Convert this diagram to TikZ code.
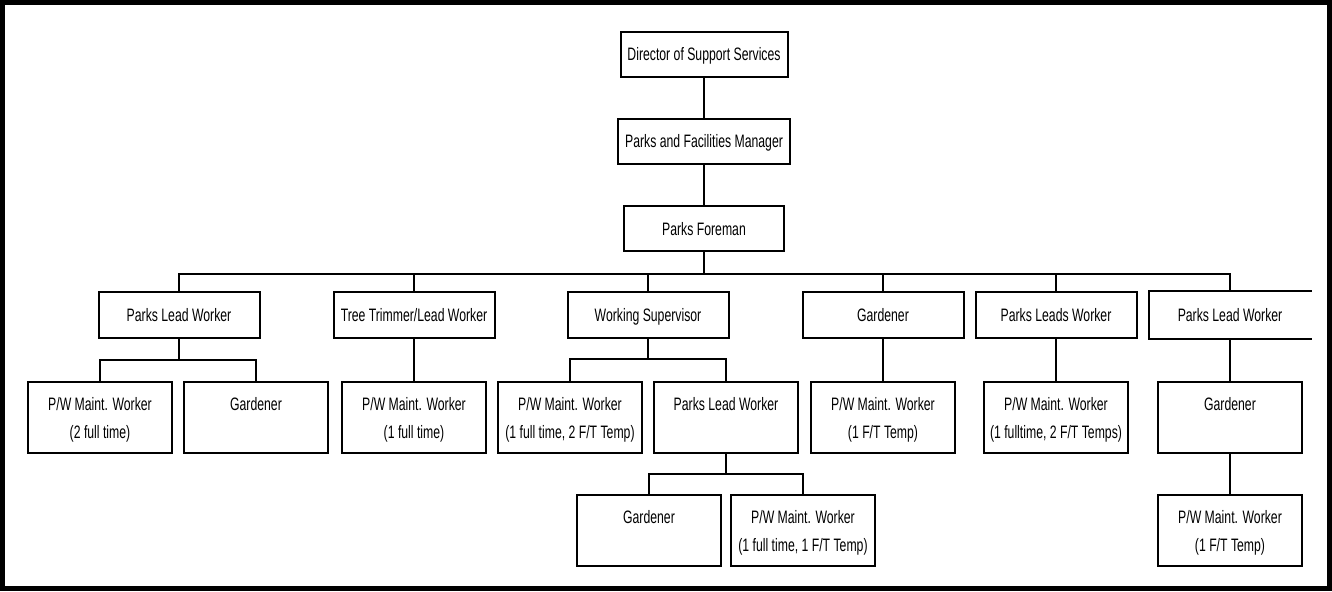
\documentclass[tikz,border=0pt]{standalone}
\usepackage{fontspec}
\setmainfont{Liberation Sans}[FakeStretch=0.68]
\newcommand{\twoline}[2]{\begin{tabular}[t]{@{}c@{}}#1\\#2\end{tabular}}
\begin{document}
\begin{tikzpicture}[x=0.5pt,y=-0.5pt,line width=1pt,
	font=\fontsize{9}{14}\selectfont,
	head/.style={draw,minimum height=22.5pt,text height=6.5pt,text depth=0pt,inner sep=0pt},
	role/.style={draw,minimum width=80.5pt,minimum height=23pt,text height=6.5pt,text depth=0pt,inner sep=0pt},
	staff/.style={draw,anchor=north,minimum width=72pt,inner sep=0pt,text height=14pt,text depth=21.5pt}]
				\useasboundingbox (0,0) rectangle (1332,591);
				\draw [line width=2.5pt] (2.5,2.5) rectangle (1329.5,588.5);
				% top of the chart
				\node [head,minimum width=83.5pt] (dir) at (704,54) {Director of Support Services};
				\node [head,minimum width=86pt] (mgr) at (704,141) {Parks and Facilities Manager};
				\node [head,minimum width=80pt] (frm) at (704,228.5) {Parks Foreman};
				\draw (dir) -- (mgr);
				\draw (mgr) -- (frm);
				% second row
				\node [role] (plwa) at (179,315) {Parks Lead Worker};
				\node [role] (tree) at (414,315) {Tree Trimmer/Lead Worker};
				\node [role] (wsup) at (648,315) {Working Supervisor};
				\node [role] (garda) at (883,315) {Gardener};
				\node [role] (plsw) at (1056,315) {Parks Leads Worker};
				\node [role,draw=none] (plwb) at (1230,315) {Parks Lead Worker};
				\draw (plwb.north east) -- (plwb.north west) -- (plwb.south west) -- (plwb.south east);
				\foreach \n in {plwa,tree,wsup,garda,plsw,plwb}
					\draw (frm.south) -- ++(0,22) -| (\n.north);
				% third row
				\node [staff] (pwa) at (100,381) {\twoline{P/W Maint. Worker}{(2 full time)}};
				\node [staff] (gardb) at (256,381) {Gardener};
				\node [staff] (pwb) at (414,381) {\twoline{P/W Maint. Worker}{(1 full time)}};
				\node [staff] (pwc) at (570,381) {\twoline{P/W Maint. Worker}{(1 full time, 2 F/T Temp)}};
				\node [staff] (plwc) at (726,381) {Parks Lead Worker};
				\node [staff] (pwd) at (883,381) {\twoline{P/W Maint. Worker}{(1 F/T Temp)}};
				\node [staff] (pwe) at (1056,381) {\twoline{P/W Maint. Worker}{(1 fulltime, 2 F/T Temps)}};
				\node [staff] (gardc) at (1230,381) {Gardener};
				\foreach \n in {pwa,gardb}
					\draw (plwa.south) -- ++(0,21) -| (\n.north);
				\foreach \n in {pwc,plwc}
					\draw (wsup.south) -- ++(0,20) -| (\n.north);
				\draw (tree) -- (pwb);
				\draw (garda) -- (pwd);
				\draw (plsw) -- (pwe);
				\draw (plwb.south) -- (gardc.north);
				% fourth row
				\node [staff] (gardd) at (649,494) {Gardener};
				\node [staff] (pwf) at (803,494) {\twoline{P/W Maint. Worker}{(1 full time, 1 F/T Temp)}};
				\node [staff] (pwg) at (1230,494) {\twoline{P/W Maint. Worker}{(1 F/T Temp)}};
				\foreach \n in {gardd,pwf}
					\draw (plwc.south) -- ++(0,20) -| (\n.north);
				\draw (gardc) -- (pwg);
			\end{tikzpicture}
\end{document}
